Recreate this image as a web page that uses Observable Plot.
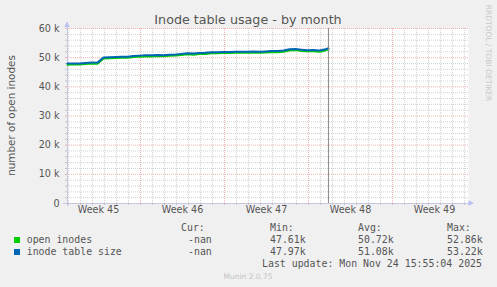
<!DOCTYPE html>
<html><head><meta charset="utf-8">
<script src="https://cdn.jsdelivr.net/npm/d3@7"></script>
<script src="https://cdn.jsdelivr.net/npm/@observablehq/plot@0.6"></script>
<style>
html,body{margin:0;padding:0;background:#F0F0F0;}
#chart{width:497px;height:287px;overflow:hidden;}
</style></head><body><div id="chart"></div>
<script>
// ---- data ----
const title = "Inode table usage - by month";
const yLabel = "number of open inodes";
const weekLabels = ["Week 45", "Week 46", "Week 47", "Week 48", "Week 49"];
const weekStarts = ["2025-11-02", "2025-11-09", "2025-11-16", "2025-11-23", "2025-11-30"];
const yTicks = [0, 10000, 20000, 30000, 40000, 50000, 60000];
const yTickLabels = ["0", "10 k", "20 k", "30 k", "40 k", "50 k", "60 k"];
const seriesNames = ["open inodes", "inode table size"];
const seriesColors = ["#00CC00", "#0066B3"];
const viewStart = "2025-11-02T22:00:00Z";
const viewEnd = "2025-12-06T08:00:00Z";
const sampleHours = 12;
const lastUpdate = "2025-11-24T15:55:04Z";
const tableSize = [47970, 48000, 48000, 48200, 48350, 48300, 50050, 50150, 50250, 50350, 50350, 50550, 50700, 50800, 50800, 50900, 50850, 51000, 51100, 51300, 51500, 51400, 51600, 51650, 51850, 51850, 51950, 51950, 52050, 52050, 52050, 52150, 52050, 52150, 52250, 52250, 52450, 52850, 52950, 52750, 52550, 52600, 52450, 52850, 53220];
const openInodes = [47610, 47620, 47640, 47840, 47990, 47940, 49690, 49790, 49890, 49990, 49990, 50190, 50340, 50440, 50440, 50540, 50490, 50640, 50740, 50940, 51140, 51040, 51240, 51290, 51490, 51490, 51590, 51590, 51690, 51690, 51690, 51790, 51690, 51790, 51890, 51890, 52040, 52490, 52590, 52290, 52190, 52240, 52040, 52490, 52860];
const statsHeader = ["Cur:", "Min:", "Avg:", "Max:"];
const statsOpen = ["-nan", "47.61k", "50.72k", "52.86k"];
const statsTable = ["-nan", "47.97k", "51.08k", "53.22k"];
const lastUpdateText = "Last update: Mon Nov 24 15:55:04 2025";
const footer = "Munin 2.0.75";
const sideText = "RRDTOOL / TOBI OETIKER";

// ---- build ----
const W = 497, H = 287;
const M = {top: 28, right: 29, bottom: 84, left: 67};
const x0 = new Date(viewStart), x1 = new Date(viewEnd), now = new Date(lastUpdate);
const times = tableSize.map((_, i) => i < tableSize.length - 1 ? new Date(+x0 + i * sampleHours * 3600e3) : now);
const rows = [];
openInodes.forEach((v, i) => rows.push({t: times[i], v, s: seriesNames[0]}));
tableSize.forEach((v, i) => rows.push({t: times[i], v, s: seriesNames[1]}));

const weeks = weekStarts.map(d => new Date(d + "T00:00:00Z"));
const weekMid = weeks.map(d => new Date(+d + 3.5 * 86400e3));
const allDays = d3.utcDay.range(d3.utcDay.ceil(x0), x1);
const days = allDays.filter(d => d.getUTCDay() !== 0);
const sundays = allDays.filter(d => d.getUTCDay() === 0);
const minorY = d3.range(2000, 60000, 2000).filter(v => v % 10000 !== 0);
const majorY = yTicks;
const pxT = (+x1 - +x0) / (W - M.left - M.right); // ms per px
const pxV = 60000 / (H - M.top - M.bottom);

const gridC = "#D2D2D2", majC = "#F2B0B0", axisC = "#C6C6E6", textC = "#555";

const svg = Plot.plot({
  width: W, height: H,
  marginTop: M.top, marginRight: M.right, marginBottom: M.bottom, marginLeft: M.left,
  style: {background: "#F0F0F0", fontFamily: "DejaVu Sans", overflow: "visible"},
  x: {type: "utc", domain: [x0, x1], axis: null},
  y: {domain: [0, 60000], axis: null},
  marks: [
    Plot.frame({fill: "white", stroke: null}),
    Plot.ruleX(days, {stroke: gridC, strokeDasharray: "1,1"}),
    Plot.ruleY(minorY, {stroke: gridC, strokeDasharray: "1,1"}),
    Plot.ruleX(sundays, {stroke: majC, strokeDasharray: "1,1"}),
    Plot.ruleY(majorY, {stroke: majC, strokeDasharray: "1,1"}),
    // tick marks outside axes
    Plot.ruleX(days, {y1: 0, y2: -2 * pxV, stroke: "#c4c4c4"}),
    Plot.ruleX(sundays, {y1: 0, y2: -2 * pxV, stroke: "#eaa"}),
    Plot.ruleY(minorY, {x1: x0, x2: new Date(+x0 - 2 * pxT), stroke: "#c4c4c4"}),
    Plot.ruleY(majorY, {x1: x0, x2: new Date(+x0 - 2 * pxT), stroke: "#eaa"}),
    // axes lines
    Plot.ruleY([0], {x1: new Date(+x0 - 4 * pxT), x2: new Date(+x1 + 2 * pxT), stroke: axisC}),
    Plot.ruleX([x0], {y1: -3 * pxV, y2: 60000 + 6 * pxV, stroke: axisC}),
    // data
    Plot.line(rows, {x: "t", y: "v", z: "s", stroke: "s", strokeWidth: 2, curve: "linear"}),
    // now line
    Plot.ruleX([now], {y1: 0, y2: 60000, stroke: "#8a8a8a"}),
    // tick labels
    Plot.text(yTicks, {y: d => d, text: (d, i) => yTickLabels[i], frameAnchor: "left", textAnchor: "end", dx: -8, fill: textC, fontSize: 9.6}),
    Plot.text(weekMid, {x: d => d, text: (d, i) => weekLabels[i], frameAnchor: "bottom", dy: 9.5, fill: textC, fontSize: 9.6})
  ],
  color: {domain: seriesNames, range: seriesColors}
});

const s = d3.select(svg);
const addText = (x, y, str, opts = {}) => s.append("text").attr("x", x).attr("y", y)
  .attr("dy", opts.dy ?? "0.35em").attr("text-anchor", opts.anchor ?? "start")
  .attr("font-family", opts.font ?? "DejaVu Sans Mono").attr("font-size", opts.size ?? 9.9)
  .attr("fill", opts.fill ?? "#555").text(str);
// arrows
s.append("path").attr("d", `M${M.left},21.5 L${M.left - 2.8},27 L${M.left + 2.8},27 Z`).attr("fill", "#B8C0F0");
s.append("path").attr("d", `M${W - M.right + 6},${H - M.bottom} L${W - M.right + 0.5},${H - M.bottom - 2.8} L${W - M.right + 0.5},${H - M.bottom + 2.8} Z`).attr("fill", "#B8C0F0");
// title
addText(248, 24, title, {dy: 0, anchor: "middle", font: "DejaVu Sans", size: 12.7});
// y label
s.append("text").attr("transform", `translate(15,${(M.top + H - M.bottom) / 2}) rotate(-90)`).attr("text-anchor", "middle")
  .attr("font-family", "DejaVu Sans").attr("font-size", 10.4).attr("fill", "#555").text(yLabel);
// side text
s.append("text").attr("transform", `translate(486,53) rotate(90)`).attr("text-anchor", "middle")
  .attr("font-family", "DejaVu Sans").attr("font-size", 7.5).attr("fill", "#C8C8C8").text(sideText);
// legend
const colX = [181, 270, 358, 447];
const valX = [188, 270, 358, 447];
statsHeader.forEach((h, i) => addText(colX[i], 227.7, h));
[statsOpen, statsTable].forEach((arr, r) => {
  const y = 239.8 + r * 12;
  s.append("rect").attr("x", 14).attr("y", y - 2.8).attr("width", 6).attr("height", 6).attr("fill", seriesColors[r]);
  addText(26.7, y, seriesNames[r]);
  arr.forEach((v, i) => addText(valX[i], y, v));
});
addText(262, 263.3, lastUpdateText);
addText(248, 276, footer, {anchor: "middle", font: "DejaVu Sans", size: 7.5, fill: "#C4C4C4"});

document.getElementById("chart").appendChild(svg);
</script></body></html>
